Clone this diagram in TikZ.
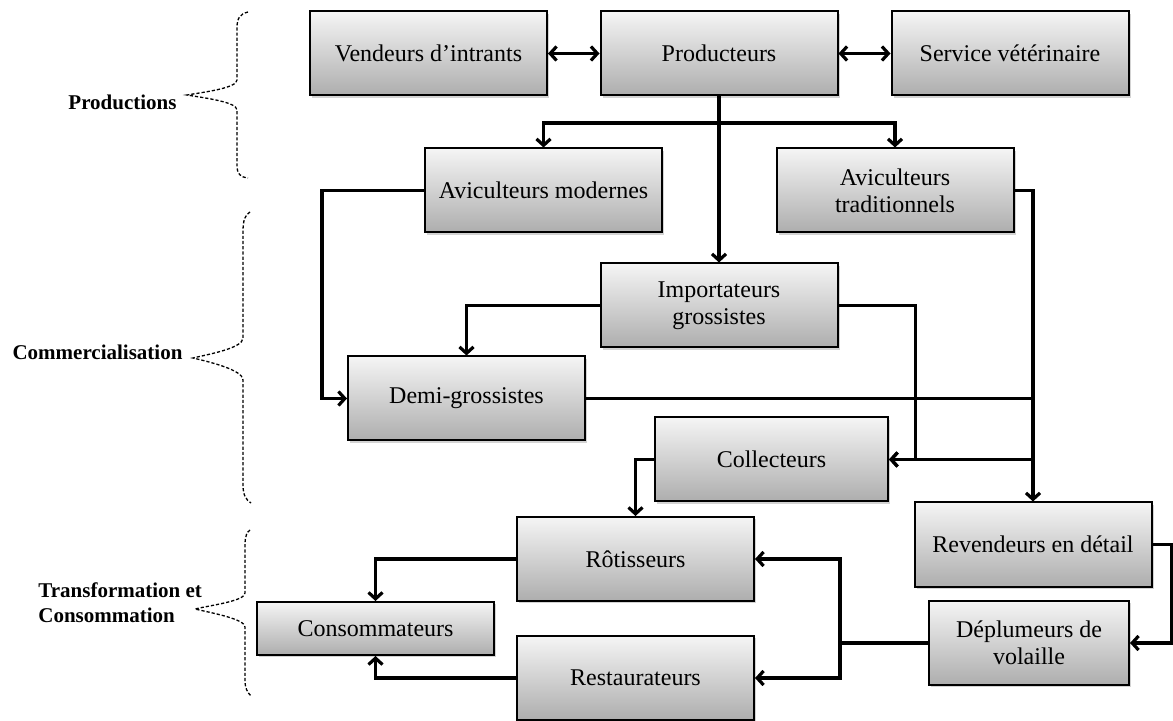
\documentclass[tikz,border=0pt]{standalone}
\usepackage{fontspec}
\setmainfont{Liberation Serif}
\usetikzlibrary{arrows.meta,shadows}

\begin{document}
\begin{tikzpicture}[x=0.5pt,y=-0.5pt,
  >={Straight Barb[length=3.2pt,width=7pt]},
  acteur/.style={draw, line width=1pt, top color=black!4, bottom color=black!32,
    drop shadow={shadow xshift=1.2pt,shadow yshift=-1.2pt,opacity=0.35},
    minimum width=118.5pt, minimum height=42pt, align=center, inner sep=2pt,
    font=\fontsize{12}{13.5}\selectfont},
  lien/.style={line width=1.6pt},
  accolade/.style={line width=0.65pt, dash pattern=on 1.6pt off 1pt},
  etape/.style={font=\bfseries\fontsize{10.5}{12.5}\selectfont, align=left}]
\useasboundingbox (0,0) rectangle (1173,721);

% acteurs de la filiere
\node[acteur] (vendeurs) at (428.5,53.5) {Vendeurs d’intrants};
\node[acteur] (producteurs) at (719,53.5) {Producteurs};
\node[acteur] (service) at (1010,53.5) {Service vétérinaire};
\node[acteur] (avimod) at (543.5,190.5) {Aviculteurs modernes};
\node[acteur] (avitrad) at (895,190.5) {Aviculteurs\\traditionnels};
\node[acteur] (importateurs) at (719,305.5) {Importateurs\\grossistes};
\node[acteur] (demi) at (466.5,398.5) {Demi-grossistes};
\node[acteur, minimum width=116.5pt] (collecteurs) at (771.5,459.5) {Collecteurs};
\node[acteur] (revendeurs) at (1033,544.5) {Revendeurs en détail};
\node[acteur] (rotisseurs) at (635.5,559) {Rôtisseurs};
\node[acteur, minimum height=26.5pt] (consommateurs) at (375.5,628.5) {Consommateurs};
\node[acteur] (restaurateurs) at (635.5,678) {Restaurateurs};
\node[acteur, minimum width=100pt] (deplumeurs) at (1029,643) {Déplumeurs de\\volaille};

% liaisons
\coordinate (branche) at (719,123);
\draw[lien,<->] (vendeurs) -- (producteurs);
\draw[lien,<->] (producteurs) -- (service);
\draw[lien,->] (producteurs) -- (importateurs);
\draw[lien,->] (branche) -| (avimod);
\draw[lien,->] (branche) -| (avitrad);
\draw[lien,->] (avimod.west) -- ++(-102,0) |- (demi.west);
\draw[lien,->] (importateurs.west) -| (demi.north);
\draw[lien,->] (importateurs.east) -- ++(77,0) |- (collecteurs.east);
\draw[lien,->] (avitrad.east) -| (revendeurs.north);
\draw[lien] (demi.east) -- (demi.east -| revendeurs.north);
\draw[lien,->] (collecteurs.east -| revendeurs.north) -- (collecteurs.east);
\draw[lien,->] (collecteurs.west) -| (rotisseurs.north);
\draw[lien,->] (revendeurs.east) -- ++(19,0) |- (deplumeurs.east);
\draw[lien,->] (deplumeurs.west) -- ++(-88,0) |- (rotisseurs.east);
\draw[lien,->] (deplumeurs.west) -- ++(-88,0) |- (restaurateurs.east);
\draw[lien,->] (rotisseurs.west) -| (consommateurs.north);
\draw[lien,->] (restaurateurs.west) -| (consommateurs.south);

% etapes
\draw[accolade] (248,12) .. controls (240,14) and (237,18) .. (237,28) -- (237,80)
  .. controls (237,88) and (205,92) .. (187,95) .. controls (205,98) and (237,102) .. (237,110)
  -- (237,165) .. controls (237,174) and (240,177) .. (248,178);
\draw[accolade] (250,212) .. controls (245,215) and (243,220) .. (243,232) -- (243,338)
  .. controls (243,348) and (210,354) .. (193,358) .. controls (210,362) and (243,370) .. (243,380)
  -- (243,485) .. controls (243,495) and (246,500) .. (251,503);
\draw[accolade] (250,530) .. controls (247,532) and (245,536) .. (245,545) -- (245,593)
  .. controls (245,601) and (212,605) .. (195,609) .. controls (212,613) and (245,619) .. (245,627)
  -- (245,680) .. controls (245,688) and (247,692) .. (251,696);
\node[etape] (productions) at (122.5,102) {Productions};
\node[etape] (commercialisation) at (97.5,352) {Commercialisation};
\node[etape, anchor=west, inner sep=0pt] (transformation) at (38,603) {Transformation et\\Consommation};
\end{tikzpicture}
\end{document}
